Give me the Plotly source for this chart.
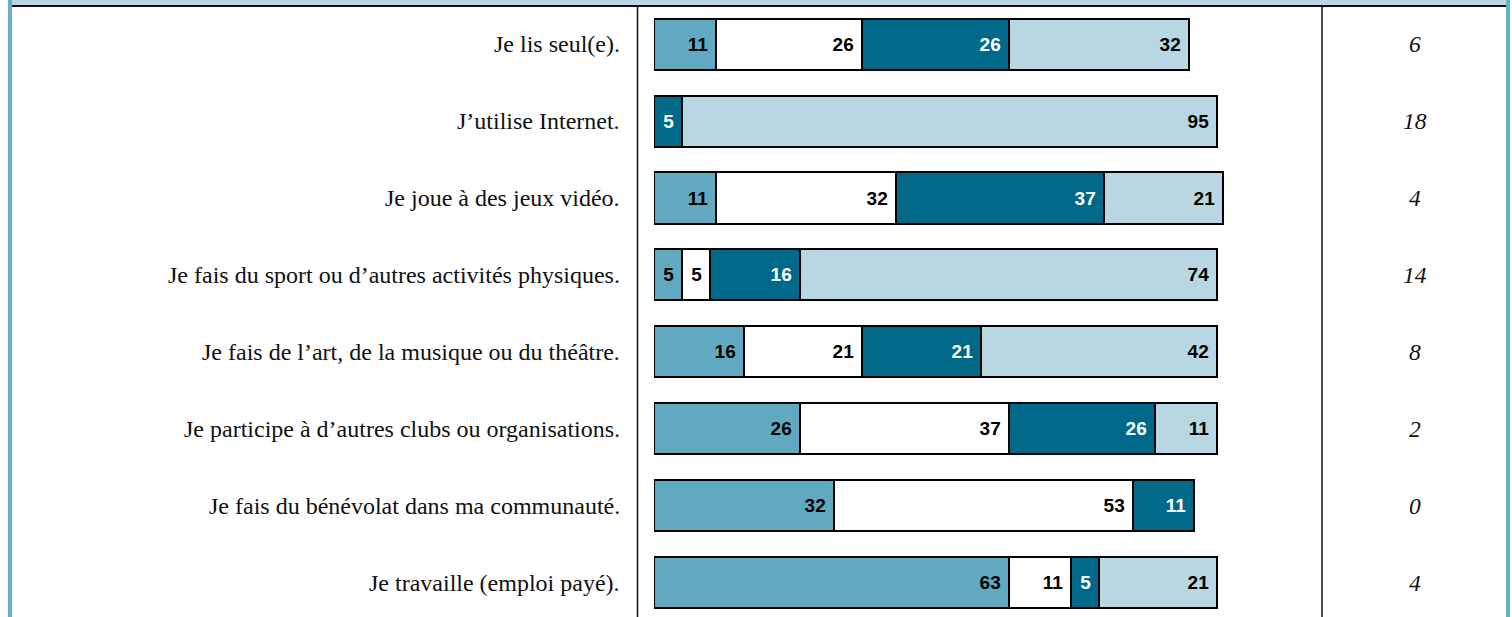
import plotly.graph_objects as go

W, H = 1512, 617

categories = [
    "Je lis seul(e).",
    "J\u2019utilise Internet.",
    "Je joue à des jeux vidéo.",
    "Je fais du sport ou d\u2019autres activités physiques.",
    "Je fais de l\u2019art, de la musique ou du théâtre.",
    "Je participe à d\u2019autres clubs ou organisations.",
    "Je fais du bénévolat dans ma communauté.",
    "Je travaille (emploi payé).",
]
seg1 = [11, 0, 11, 5, 16, 26, 32, 63]
seg2 = [26, 0, 32, 5, 21, 37, 53, 11]
seg3 = [26, 5, 37, 16, 21, 26, 11, 5]
seg4 = [32, 95, 21, 74, 42, 11, 0, 21]
right_col = ["6", "18", "4", "14", "8", "2", "0", "4"]

seg_colors = ["#60A9C1", "#FFFFFF", "#00698A", "#B8D7E2"]
txt_colors = ["#000000", "#000000", "#FFFFFF", "#000000"]

fig = go.Figure()
for vals, col, tcol in zip([seg1, seg2, seg3, seg4], seg_colors, txt_colors):
    fig.add_trace(go.Bar(
        y=categories, x=vals, orientation="h",
        marker=dict(color=col, line=dict(color="#000000", width=2)),
        text=[(str(v) + "\u00a0") if v else "" for v in vals],
        textposition="inside", insidetextanchor="end", textangle=0,
        constraintext="none",
        textfont=dict(family="Liberation Sans", size=19, color=tcol, weight="bold"),
        width=0.665, hoverinfo="skip", showlegend=False,
    ))

# pixel geometry helpers
x0_px, x1_px = 654, 1322
px_per_unit = 5.63
row_pitch = 76.9
first_center = 44.2
r_top = -first_center / row_pitch
r_bot = r_top + H / row_pitch

fig.update_layout(
    width=W, height=H, margin=dict(l=0, r=0, t=0, b=0),
    paper_bgcolor="white", plot_bgcolor="white",
    barmode="stack", bargap=0,
    xaxis=dict(domain=[x0_px / W, x1_px / W], range=[0, (x1_px - x0_px) / px_per_unit],
               visible=False, fixedrange=True),
    yaxis=dict(domain=[0, 1], range=[r_bot, r_top], visible=False, fixedrange=True,
               categoryorder="array", categoryarray=categories),
)

annotations = []
for c, r in zip(categories, right_col):
    annotations.append(dict(x=622 / W, xref="paper", y=c, yref="y", text=c,
                            xanchor="right", yanchor="middle", showarrow=False,
                            font=dict(family="Liberation Serif", size=24, color="#111111")))
    annotations.append(dict(x=1415 / W, xref="paper", y=c, yref="y", text="<i>" + r + "</i>",
                            xanchor="center", yanchor="middle", showarrow=False,
                            font=dict(family="Liberation Serif", size=23.5, color="#111111")))
fig.update_layout(annotations=annotations)

def py(p):
    return 1 - p / H

shapes = [
    # header band
    dict(type="rect", xref="paper", yref="paper", x0=12 / W, x1=1506 / W, y0=py(5.5), y1=1,
         fillcolor="#B8D7E2", line=dict(width=0), layer="below"),
    dict(type="line", xref="paper", yref="paper", x0=12 / W, x1=1506 / W, y0=py(6), y1=py(6),
         line=dict(color="#111111", width=1.8)),
    # left/right teal borders
    dict(type="rect", xref="paper", yref="paper", x0=8 / W, x1=12 / W, y0=0, y1=1,
         fillcolor="#67B1C8", line=dict(width=0)),
    dict(type="rect", xref="paper", yref="paper", x0=1506 / W, x1=1510 / W, y0=0, y1=1,
         fillcolor="#67B1C8", line=dict(width=0)),
    # column separators
    dict(type="line", xref="paper", yref="paper", x0=637.5 / W, x1=637.5 / W, y0=0, y1=py(6.5),
         line=dict(color="#111111", width=1.5)),
    dict(type="line", xref="paper", yref="paper", x0=1322 / W, x1=1322 / W, y0=0, y1=py(6.5),
         line=dict(color="#111111", width=1.5)),
]
fig.update_layout(shapes=shapes)

fig.write_html(
    "out.html",
    config={"displayModeBar": False},
    post_script="document.body.style.margin='0';document.body.style.overflow='hidden';",
)
